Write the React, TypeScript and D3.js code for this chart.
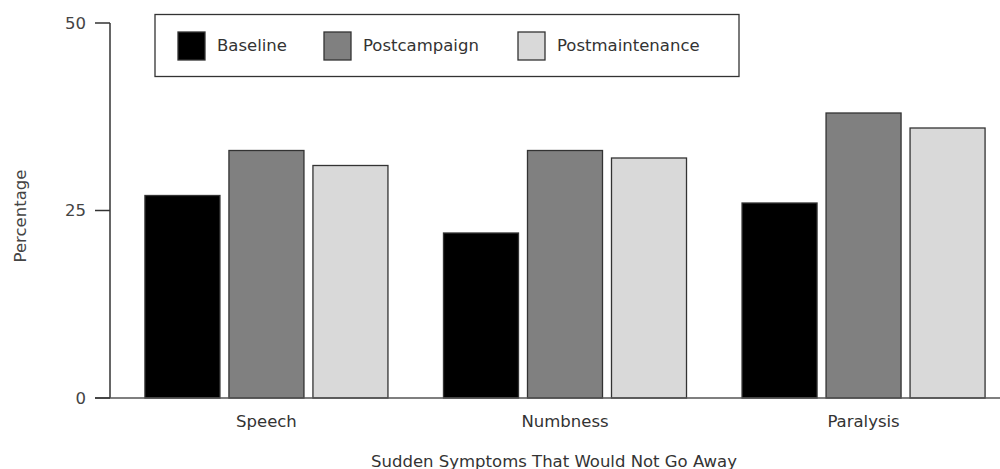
import React from "react";
import * as d3 from "d3";

const categories = ["Speech", "Numbness", "Paralysis"];
const seriesNames = ["Baseline", "Postcampaign", "Postmaintenance"];
const baseline = [27, 22, 26];
const postcampaign = [33, 33, 38];
const postmaintenance = [31, 32, 36];
const yTicks = [0, 25, 50];
const colors = ["#000000", "#808080", "#d9d9d9"];

const W = 1000;
const H = 469;
const FONT = "'DejaVu Sans', Verdana, sans-serif";
const FS = 16.5;

export default function App() {
  const values = [baseline, postcampaign, postmaintenance];
  const y = d3.scaleLinear().domain([0, 50]).range([398, 23]);
  const x0 = d3
    .scaleBand<string>()
    .domain(categories)
    .range([110, 1020])
    .paddingInner(0.186)
    .paddingOuter(0.117);
  const x1 = d3
    .scaleBand<string>()
    .domain(seriesNames)
    .range([0, x0.bandwidth()])
    .paddingInner(0.107)
    .paddingOuter(0);

  const legendX = [178, 324, 518];

  return (
    <div style={{ position: "fixed", left: 0, top: 0 }}>
      <svg width={W} height={H} style={{ display: "block", background: "#fff" }}>
        {/* bars */}
        {categories.map((c, ci) => (
          <g key={c} transform={`translate(${x0(c)},0)`}>
            {seriesNames.map((s, si) => (
              <rect
                key={s}
                x={x1(s)}
                y={y(values[si][ci])}
                width={x1.bandwidth()}
                height={y(0) - y(values[si][ci])}
                fill={colors[si]}
                stroke="#333"
                strokeWidth={1.3}
              />
            ))}
          </g>
        ))}
        {/* axes */}
        <line x1={110} x2={110} y1={y(50)} y2={y(0)} stroke="#333" strokeWidth={1.5} />
        <line x1={95} x2={1000} y1={y(0)} y2={y(0)} stroke="#555" strokeWidth={1.5} />
        {yTicks.map((t) => (
          <g key={t}>
            <line x1={95} x2={110} y1={y(t)} y2={y(t)} stroke="#333" strokeWidth={1.5} />
            <text
              x={86}
              y={y(t)}
              textAnchor="end"
              dominantBaseline="central"
              fontFamily={FONT}
              fontSize={FS}
              fill="#444"
            >
              {t}
            </text>
          </g>
        ))}
        {categories.map((c) => (
          <text
            key={c}
            x={(x0(c) as number) + x0.bandwidth() / 2}
            y={421}
            textAnchor="middle"
            dominantBaseline="central"
            fontFamily={FONT}
            fontSize={FS}
            fill="#333"
          >
            {c}
          </text>
        ))}
        <text
          x={554}
          y={461}
          textAnchor="middle"
          dominantBaseline="central"
          fontFamily={FONT}
          fontSize={FS}
          fill="#333"
        >
          Sudden Symptoms That Would Not Go Away
        </text>
        <text
          transform={`translate(20,216) rotate(-90)`}
          textAnchor="middle"
          dominantBaseline="central"
          fontFamily={FONT}
          fontSize={FS}
          fill="#444"
        >
          Percentage
        </text>
        {/* legend */}
        <rect x={155} y={14.5} width={584} height={62} fill="#fff" stroke="#333" strokeWidth={1.3} />
        {seriesNames.map((s, i) => (
          <g key={s}>
            <rect
              x={legendX[i]}
              y={32}
              width={27}
              height={28}
              fill={colors[i]}
              stroke="#333"
              strokeWidth={1.3}
            />
            <text
              x={legendX[i] + 39}
              y={45}
              dominantBaseline="central"
              fontFamily={FONT}
              fontSize={FS}
              fill="#333"
            >
              {s}
            </text>
          </g>
        ))}
      </svg>
    </div>
  );
}
